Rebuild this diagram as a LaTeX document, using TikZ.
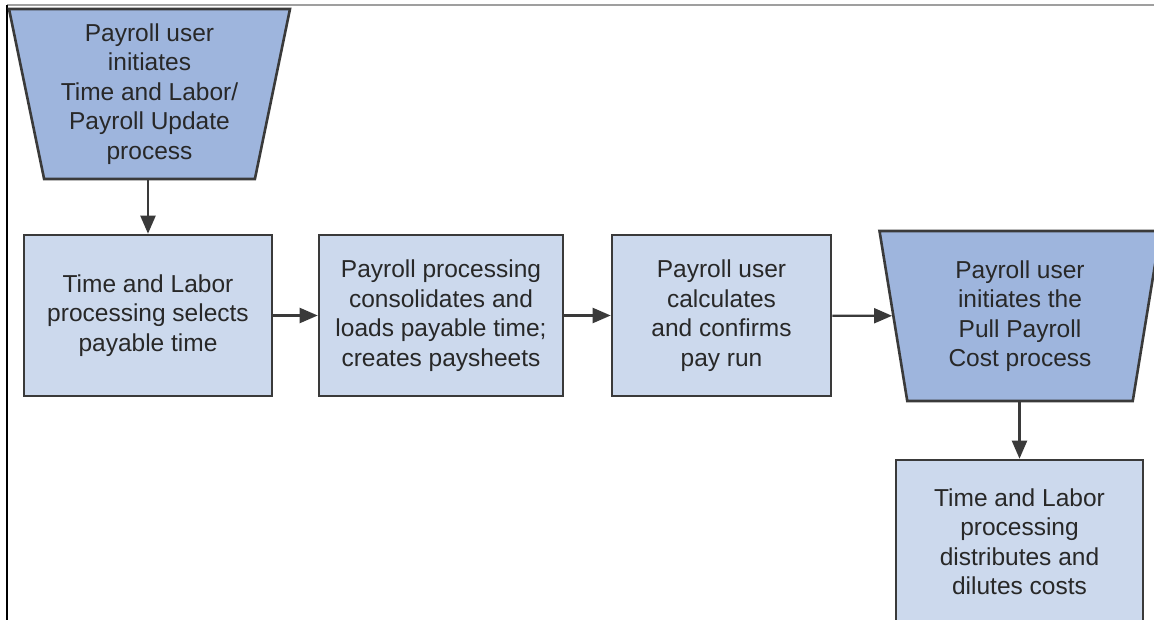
\documentclass[tikz,border=0pt]{standalone}
\usepackage{fontspec}
\setmainfont{Liberation Sans}
\usetikzlibrary{shapes.geometric,arrows.meta}
\definecolor{trapfill}{RGB}{158,181,221}
\definecolor{boxfill}{RGB}{204,217,237}
\definecolor{edge}{RGB}{58,58,58}
\definecolor{txt}{RGB}{40,40,40}
\tikzset{
  base/.style={draw=edge, line width=2.6pt, inner sep=0pt, align=center,
    text=txt, font=\fontsize{24.5}{29.5}\selectfont},
  stepbox/.style={base, rectangle, fill=boxfill},
  trap/.style={base, trapezium, fill=trapfill, shape border rotate=180,
    trapezium left angle=76, trapezium right angle=76,
    trapezium stretches body, minimum width=281pt, minimum height=170pt},
  arr/.style={draw=edge, line width=2.2pt,
    -{Triangle[length=18pt,width=15pt]}}
}
\begin{document}
\begin{tikzpicture}[x=1pt,y=-1pt]
\useasboundingbox (0,0) rectangle (1154,620);
% page frame
\draw[gray!75, line width=1.6pt] (7,5) -- (1154,5);
\draw[black, line width=1.4pt] (7,5) -- (7,620);

\node[trap] (t1) at (149.5,94) {Payroll user\\initiates\\Time and Labor/\\Payroll Update\\process};
\node[stepbox, minimum width=248pt, minimum height=161pt] (b1) at (148,315.5)
  {Time and Labor\\processing selects\\payable time};
\node[stepbox, minimum width=244pt, minimum height=161pt] (b2) at (441,315.5)
  {Payroll processing\\consolidates and\\loads payable time;\\creates paysheets};
\node[stepbox, minimum width=219pt, minimum height=161pt] (b3) at (721.5,315.5)
  {Payroll user\\calculates\\and confirms\\pay run};
\node[trap] (t2) at (1020,316) {Payroll user\\initiates the\\Pull Payroll\\Cost process};
\node[stepbox, minimum width=247pt, minimum height=163pt] (b5) at (1019.5,541.5)
  {Time and Labor\\processing\\distributes and\\dilutes costs};

\draw[arr] (t1.south -| b1.north) -- (b1.north);
\draw[arr] (b1) -- (b2);
\draw[arr] (b2) -- (b3);
\draw[arr] (b3) -- (t2);
\draw[arr] (t2.south -| b5.north) -- (b5.north);
\end{tikzpicture}
\end{document}
